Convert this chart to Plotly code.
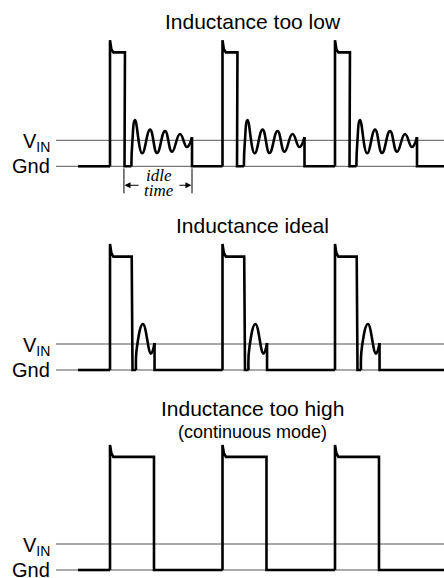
import plotly.graph_objects as go

# ---------------- data (time in switching periods, voltage in units of VIN) ----------------
pulse_starts = [0.0, 1.0, 2.0]           # start time of each switching pulse
lead_in_t = -0.284                       # where the drawn waveform begins (at Gnd)

titles = ["Inductance too low", "Inductance ideal", "Inductance too high"]
subtitle = "(continuous mode)"
label_vin = "V<sub>IN</sub>"
label_gnd = "Gnd"

# Inductance too low: pulse part (linear), ringing part (smooth), tail
low_pulse_t = [0.0, 0.0, 0.012, 0.03, 0.133, 0.129, 0.190]
low_pulse_v = [0.0, 4.85, 4.50, 4.38, 4.38, 0.0, 0.0]
low_ring_t = [0.190, 0.198, 0.222, 0.286, 0.356, 0.418, 0.489, 0.551, 0.622, 0.684, 0.729]
low_ring_v = [0.0, 0.9, 1.78, 0.50, 1.41, 0.51, 1.36, 0.56, 1.24, 0.74, 1.12]
low_tail_t = [0.729, 0.729, 1.0]
low_tail_v = [1.12, 0.0, 0.0]

# Inductance ideal
ideal_pulse_t = [0.0, 0.0, 0.012, 0.03, 0.193, 0.200, 0.231]
ideal_pulse_v = [0.0, 4.85, 4.50, 4.36, 4.36, 0.0, 0.0]
ideal_ring_t = [0.231, 0.240, 0.293, 0.364, 0.396]
ideal_ring_v = [0.0, 0.9, 1.77, 0.63, 1.04]
ideal_tail_t = [0.396, 0.396, 1.0]
ideal_tail_v = [1.04, 0.0, 0.0]

# Inductance too high (continuous mode)
high_pulse_t = [0.0, 0.0, 0.012, 0.03, 0.391, 0.391, 1.0]
high_pulse_v = [0.0, 4.81, 4.50, 4.35, 4.35, 0.0, 0.0]

# idle time marker (panel 1)
idle_start_t, idle_end_t = 0.124, 0.729

# ---------------- layout geometry (pixels) ----------------
W, H = 444, 578
PX_PER_T = 112.5
T0_PX = 110.0
PX_PER_V = 26.0
panels_px = [(30, 200, 166.3), (230, 395, 370.0), (440, 578, 570.0)]  # top, bottom, gnd
ref_line_start_px = 56.0

x_range = [(0 - T0_PX) / PX_PER_T, (W - T0_PX) / PX_PER_T]
ref_t0 = (ref_line_start_px - T0_PX) / PX_PER_T

fig = go.Figure()
wave = dict(color="black", width=2.6)


def add_segment(ts, vs, k, shape="linear"):
    xs, ys = [], []
    for s in pulse_starts:
        xs += [t + s for t in ts] + [None]
        ys += list(vs) + [None]
    line = dict(**wave, shape=shape)
    if shape == "spline":
        line["smoothing"] = 1.3
    fig.add_trace(go.Scatter(x=xs, y=ys, mode="lines", line=line,
                             xaxis=f"x{k}" if k > 1 else "x", yaxis=f"y{k}" if k > 1 else "y",
                             showlegend=False, hoverinfo="skip", connectgaps=False))


def add_lead(k):
    fig.add_trace(go.Scatter(x=[lead_in_t, 0.0], y=[0.0, 0.0], mode="lines", line=wave,
                             xaxis=f"x{k}" if k > 1 else "x", yaxis=f"y{k}" if k > 1 else "y",
                             showlegend=False, hoverinfo="skip"))


# panel 1
add_lead(1)
add_segment(low_pulse_t, low_pulse_v, 1)
add_segment(low_ring_t, low_ring_v, 1, shape="spline")
add_segment(low_tail_t, low_tail_v, 1)
# panel 2
add_lead(2)
add_segment(ideal_pulse_t, ideal_pulse_v, 2)
add_segment(ideal_ring_t, ideal_ring_v, 2, shape="spline")
add_segment(ideal_tail_t, ideal_tail_v, 2)
# panel 3
add_lead(3)
add_segment(high_pulse_t, high_pulse_v, 3)

layout = dict(width=W, height=H, margin=dict(l=0, r=0, t=0, b=0),
              paper_bgcolor="white", plot_bgcolor="rgba(0,0,0,0)", showlegend=False)
shapes, annots = [], []
font_main = "Liberation Sans, Arial, sans-serif"

for i, (top, bot, gnd) in enumerate(panels_px, start=1):
    sfx = "" if i == 1 else str(i)
    dom = [1 - bot / H, 1 - top / H]
    yr = [(gnd - bot) / PX_PER_V, (gnd - top) / PX_PER_V]
    layout[f"xaxis{sfx}"] = dict(range=x_range, visible=False, domain=[0, 1],
                                 anchor=f"y{sfx}", fixedrange=True)
    layout[f"yaxis{sfx}"] = dict(range=yr, visible=False, domain=dom,
                                 anchor=f"x{sfx}", fixedrange=True)
    for lvl in (0.0, 1.0):
        shapes.append(dict(type="line", xref=f"x{sfx}", yref=f"y{sfx}", x0=ref_t0, x1=x_range[1],
                           y0=lvl, y1=lvl, line=dict(color="#555555", width=1), layer="below"))
    annots.append(dict(text=label_gnd, xref="paper", yref=f"y{sfx}", x=52 / W, y=0.0,
                       xanchor="right", yanchor="middle", showarrow=False,
                       font=dict(family=font_main, size=20, color="black")))
    annots.append(dict(text=label_vin, xref="paper", yref=f"y{sfx}", x=52 / W, y=1.0, yshift=-2,
                       xanchor="right", yanchor="middle", showarrow=False,
                       font=dict(family=font_main, size=20, color="black")))

title_y_px = [21, 225, 408]
for ttl, ypx in zip(titles, title_y_px):
    annots.append(dict(text=ttl, xref="paper", yref="paper", x=253 / W, y=1 - ypx / H,
                       xanchor="center", yanchor="middle", showarrow=False,
                       font=dict(family=font_main, size=21, color="black")))
annots.append(dict(text=subtitle, xref="paper", yref="paper", x=253 / W, y=1 - 432 / H,
                   xanchor="center", yanchor="middle", showarrow=False,
                   font=dict(family=font_main, size=18, color="black")))

# idle-time marker
for tt in (idle_start_t, idle_end_t):
    shapes.append(dict(type="line", xref="x", yref="y", x0=tt, x1=tt, y0=-0.08, y1=-1.04,
                       line=dict(color="black", width=1)))
arrow_v = -0.73
annots.append(dict(text="", xref="x", yref="y", axref="x", ayref="y",
                   x=idle_start_t + 0.005, y=arrow_v, ax=0.267, ay=arrow_v,
                   showarrow=True, arrowhead=2, arrowsize=1.2, arrowwidth=1, arrowcolor="black"))
annots.append(dict(text="", xref="x", yref="y", axref="x", ayref="y",
                   x=idle_end_t - 0.005, y=arrow_v, ax=0.604, ay=arrow_v,
                   showarrow=True, arrowhead=2, arrowsize=1.2, arrowwidth=1, arrowcolor="black"))
serif = "Liberation Serif, Times New Roman, serif"
annots.append(dict(text="<i>idle</i>", xref="x", yref="y", x=0.436, y=-0.36,
                   xanchor="center", yanchor="middle", showarrow=False,
                   font=dict(family=serif, size=17, color="black")))
annots.append(dict(text="<i>time</i>", xref="x", yref="y", x=0.436, y=-0.94,
                   xanchor="center", yanchor="middle", showarrow=False,
                   font=dict(family=serif, size=17, color="black")))

layout["shapes"] = shapes
layout["annotations"] = annots
fig.update_layout(**layout)
fig.write_html("out.html", config={"displayModeBar": False},
               post_script="document.body.style.margin='0';document.body.style.padding='0';")
